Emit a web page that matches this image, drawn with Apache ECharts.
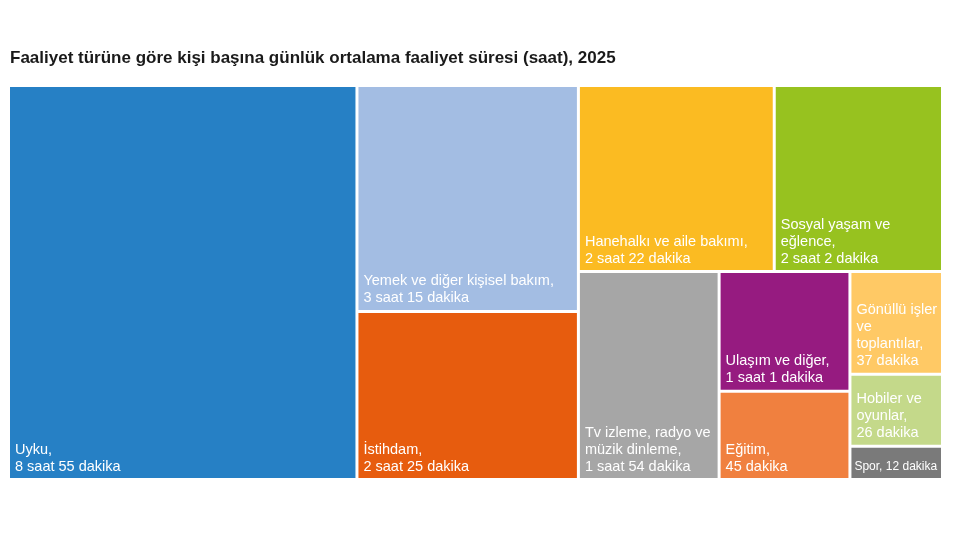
<!DOCTYPE html>
<html>
<head>
<meta charset="utf-8">
<script src="https://cdn.jsdelivr.net/npm/echarts@6/dist/echarts.min.js"></script>
<style>
  html, body { margin: 0; padding: 0; background: #fff; }
  #chart { width: 960px; height: 540px; }
</style>
</head>
<body>
<div id="chart"></div>
<script>
// faaliyet adları (etiket metni, satır sonları dahil)
const names = [
  'Uyku,\n8 saat 55 dakika',
  'Yemek ve diğer kişisel bakım,\n3 saat 15 dakika',
  'İstihdam,\n2 saat 25 dakika',
  'Hanehalkı ve aile bakımı,\n2 saat 22 dakika',
  'Sosyal yaşam ve\neğlence,\n2 saat 2 dakika',
  'Tv izleme, radyo ve\nmüzik dinleme,\n1 saat 54 dakika',
  'Ulaşım ve diğer,\n1 saat 1 dakika',
  'Eğitim,\n45 dakika',
  'Gönüllü işler\nve\ntoplantılar,\n37 dakika',
  'Hobiler ve\noyunlar,\n26 dakika',
  'Spor, 12 dakika'
]
// süre (dakika)
const minutes = [535, 195, 145, 142, 122, 114, 61, 45, 37, 26, 12]
const colors = [
  '#2680c5', '#a3bde3', '#e75c0e', '#fbbb22', '#97c21f', '#a6a6a6',
  '#961b80', '#f0803f', '#ffc965', '#c4d98a', '#7a7a7a'
]

const chart = echarts.init(document.getElementById('chart'))
chart.setOption({
  animation: false,
  title: {
    text: 'Faaliyet türüne göre kişi başına günlük ortalama faaliyet süresi (saat), 2025',
    left: 5,
    top: 45,
    textStyle: {
      fontFamily: 'Liberation Sans',
      fontSize: 17,
      fontWeight: 'bold',
      color: '#1a1a1a'
    }
  },
  series: [
    {
      type: 'treemap',
      left: 10,
      top: 87,
      width: 931,
      height: 391,
      roam: false,
      nodeClick: false,
      breadcrumb: { show: false },
      sort: 'desc',
      // klasik squarify, referanstaki yerleşimi veriyor
      squareRatio: 1,
      levels: [
        { itemStyle: { borderWidth: 0, gapWidth: 3, borderColor: '#fff' } }
      ],
      label: {
        show: true,
        position: 'insideBottomLeft',
        color: '#fff',
        fontFamily: 'Liberation Sans',
        fontSize: 14.5,
        lineHeight: 17,
        overflow: 'none',
        padding: [0, 0, 3, 5],
        formatter: p => p.name
      },
      upperLabel: { show: false },
      data: names.map((n, i) => ({
        name: n,
        value: minutes[i],
        itemStyle: { color: colors[i] },
        label: i === names.length - 1 ? { fontSize: 12, padding: [0, 0, 3, 3] } : undefined
      }))
    }
  ]
})
</script>
</body>
</html>
